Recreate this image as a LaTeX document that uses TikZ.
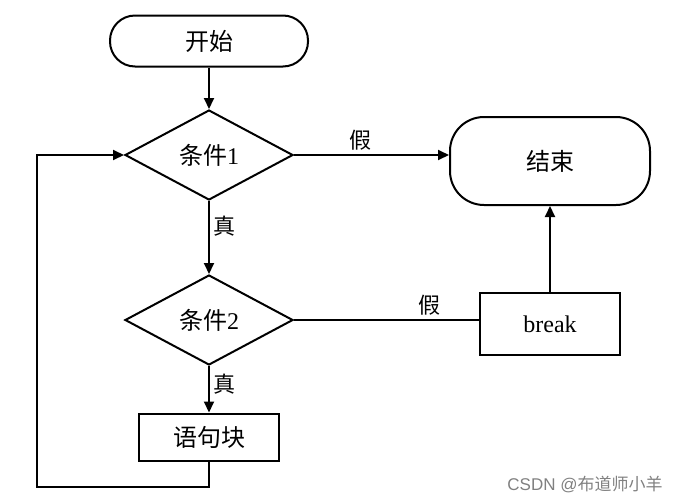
\documentclass[tikz,border=0pt]{standalone}
\usepackage{fontspec}
\setmainfont{Liberation Serif}
\newfontfamily\cjk{Noto Sans CJK SC}
\newfontfamily\marksans{Liberation Sans}
\usetikzlibrary{shapes.geometric,arrows.meta}

\begin{document}
\begin{tikzpicture}
  [x=1pt,y=-1pt,font=\fontsize{24}{26}\selectfont, line width=2pt,
  terminal/.style={draw, rounded corners=25pt, inner sep=0pt},
  decision/.style={draw, diamond, aspect=1.87, minimum width=168pt, minimum height=90pt, inner sep=0pt},
  block/.style={draw, minimum width=140pt, inner sep=0pt},
  arrow/.style={-{Triangle[length=11pt,width=10pt]}},
  label/.style={font=\cjk\fontsize{22}{24}\selectfont}]
  \useasboundingbox (0,0) rectangle (681,504);
  \node[terminal, minimum width=198pt, minimum height=51pt] (start) at (209,41) {{\cjk 开始}};
  \node[decision] (cond1) at (209,155) {{\cjk 条件}1};
  \node[terminal, rounded corners=34pt, minimum width=200pt, minimum height=88pt] (end) at (550,161) {{\cjk 结束}};
  \node[decision] (cond2) at (209,320) {{\cjk 条件}2};
  \node[block, minimum height=62pt] (brk) at (550,324) {break};
  \node[block, minimum height=47pt] (body) at (209,437) {{\cjk 语句块}};
  \coordinate (loop) at (37,487);
  % connectors
  \draw[arrow] (start) -- (cond1);
  \draw[arrow] (cond1.east) -- node[label, above, pos=0.43] {假} (cond1.east -| end.west);
  \draw[arrow] (cond1) -- node[label, right, pos=0.35] {真} (cond2);
  \draw (cond2.east) -- node[label, above, pos=0.73] {假} (cond2.east -| brk.west);
  \draw[arrow] (brk) -- (end);
  \draw[arrow] (cond2) -- node[label, right, pos=0.4] {真} (body);
  \draw[arrow] (body.south) |- (loop) |- (cond1.west);
  \node[text=gray, font=\marksans\fontsize{17}{19}\selectfont] (mark) at (585,484) {CSDN @{\cjk 布道师小羊}};
\end{tikzpicture}
\end{document}
